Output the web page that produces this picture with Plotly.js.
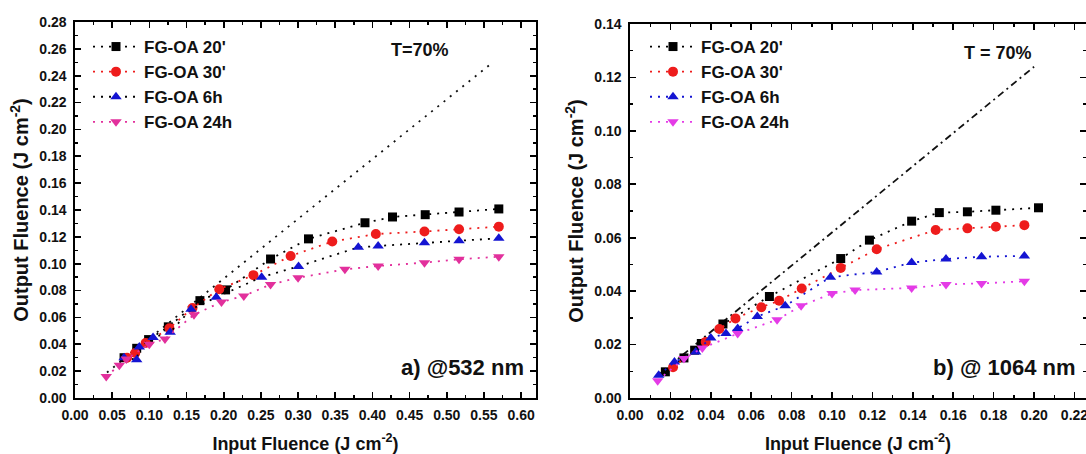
<!DOCTYPE html>
<html><head><meta charset="utf-8">
<script src="https://cdn.plot.ly/plotly-3.0.1.min.js"></script>
<style>html,body{margin:0;padding:0;background:#fff}#chart{width:1086px;height:454px}</style>
</head><body><div id="chart"></div>
<script>
// ---- Panel a) @532 nm ----
const a20x = [0.066, 0.083, 0.099, 0.1255, 0.168, 0.2025, 0.263, 0.314, 0.390, 0.427, 0.471, 0.5165, 0.570];
const a20y = [0.030, 0.037, 0.0435, 0.053, 0.0725, 0.0805, 0.1035, 0.1185, 0.1305, 0.1348, 0.1365, 0.1385, 0.1408];
const a30x = [0.070, 0.081, 0.095, 0.127, 0.158, 0.194, 0.240, 0.290, 0.346, 0.4046, 0.470, 0.5165, 0.570];
const a30y = [0.030, 0.0335, 0.041, 0.052, 0.067, 0.081, 0.0915, 0.1058, 0.1165, 0.1221, 0.1240, 0.1257, 0.1276];
const a6x = [0.066, 0.083, 0.0865, 0.105, 0.128, 0.156, 0.190, 0.251, 0.3006, 0.381, 0.4077, 0.470, 0.5165, 0.570];
const a6y = [0.030, 0.0285, 0.038, 0.045, 0.049, 0.066, 0.075, 0.090, 0.098, 0.1122, 0.1132, 0.1157, 0.1171, 0.1189];
const a24x = [0.042, 0.0596, 0.069, 0.0999, 0.121, 0.160, 0.197, 0.227, 0.263, 0.300, 0.363, 0.4077, 0.470, 0.5165, 0.570];
const a24y = [0.016, 0.0243, 0.029, 0.040, 0.044, 0.062, 0.0715, 0.076, 0.0845, 0.0895, 0.0958, 0.0983, 0.1008, 0.1033, 0.1052];
const aLinX = [0.043, 0.562];
const aLinY = [0.019, 0.250];

// ---- Panel b) @1064 nm ----
const b20x = [0.0175, 0.0267, 0.032, 0.0353, 0.046, 0.069, 0.1043, 0.1185, 0.1394, 0.1531, 0.167, 0.1811, 0.2022];
const b20y = [0.0098, 0.015, 0.0179, 0.0204, 0.0277, 0.038, 0.0522, 0.0591, 0.0662, 0.0694, 0.0697, 0.0703, 0.0712];
const b30x = [0.0213, 0.0375, 0.0442, 0.0522, 0.065, 0.0738, 0.085, 0.1043, 0.1221, 0.1513, 0.167, 0.1811, 0.1952];
const b30y = [0.0115, 0.021, 0.0258, 0.0298, 0.034, 0.0364, 0.041, 0.0487, 0.0557, 0.0629, 0.0635, 0.0641, 0.0647];
const b6x = [0.0142, 0.022, 0.0325, 0.040, 0.0475, 0.0533, 0.063, 0.0768, 0.0992, 0.1221, 0.1394, 0.1564, 0.174, 0.1952];
const b6y = [0.0085, 0.0135, 0.0172, 0.0225, 0.0241, 0.026, 0.0305, 0.0345, 0.0452, 0.0472, 0.0507, 0.052, 0.0529, 0.0532];
const b24x = [0.0137, 0.0267, 0.0358, 0.0533, 0.0728, 0.0847, 0.1, 0.1114, 0.1394, 0.1564, 0.174, 0.1952];
const b24y = [0.0065, 0.0148, 0.0187, 0.0241, 0.0293, 0.0345, 0.0391, 0.0404, 0.0412, 0.0425, 0.0429, 0.0437];
const bLinX = [0.013, 0.200];
const bLinY = [0.008, 0.124];

const names = ["FG-OA 20'", "FG-OA 30'", "FG-OA 6h", "FG-OA 24h"];

const FONT = 'Liberation Sans, Arial, sans-serif';
const DOT = '2px,6px';

function series(x, y, name, sym, mcol, lcol, xa, ya, leg, size) {
  return {x: x, y: y, name: name, type: 'scatter', mode: 'lines+markers',
    xaxis: xa, yaxis: ya, legend: leg,
    line: {color: lcol, width: 1.8, dash: DOT},
    marker: {symbol: sym, color: mcol, size: size || 10}};
}
const RED = '#ee1c1c', BLUE = '#1414d2', PINKA = '#e2309c', PINKB = '#e43be6';
const traces = [
  {x: aLinX, y: aLinY, type: 'scatter', mode: 'lines', xaxis: 'x', yaxis: 'y', showlegend: false,
   line: {color: '#111', width: 1.8, dash: DOT}},
  series(a20x, a20y, names[0], 'square', '#000', '#000', 'x', 'y', 'legend', 9),
  series(a30x, a30y, names[1], 'circle', RED, RED, 'x', 'y', 'legend'),
  series(a6x, a6y, names[2], 'triangle-up', BLUE, '#000', 'x', 'y', 'legend'),
  series(a24x, a24y, names[3], 'triangle-down', PINKA, PINKA, 'x', 'y', 'legend'),
  {x: bLinX, y: bLinY, type: 'scatter', mode: 'lines', xaxis: 'x2', yaxis: 'y2', showlegend: false,
   line: {color: '#111', width: 1.8, dash: '7px,4px,2px,4px'}},
  series(b20x, b20y, names[0], 'square', '#000', '#000', 'x2', 'y2', 'legend2', 9),
  series(b30x, b30y, names[1], 'circle', RED, RED, 'x2', 'y2', 'legend2'),
  series(b6x, b6y, names[2], 'triangle-up', BLUE, BLUE, 'x2', 'y2', 'legend2'),
  series(b24x, b24y, names[3], 'triangle-down', PINKB, PINKB, 'x2', 'y2', 'legend2')
];

const tickFont = {family: FONT, size: 14, color: '#111', weight: 'bold'};
function ax(domain, range, dtick, minorD, title, tsize, standoff, anchor) {
  return {domain: domain, range: range, dtick: dtick, tick0: 0, anchor: anchor,
    showline: true, linecolor: '#000', linewidth: 1.6, mirror: 'allticks',
    ticks: 'inside', ticklen: 6, tickwidth: 1.6, tickcolor: '#000',
    minor: {ticks: 'inside', ticklen: 3, tickwidth: 1.4, dtick: minorD, tickcolor: '#000', showgrid: false},
    showgrid: false, zeroline: false, tickformat: '.2f', tickfont: tickFont,
    ticklabelstandoff: 4, ticklabeloverflow: 'allow',
    title: {text: title, font: {family: FONT, size: tsize, color: '#111', weight: 'bold'}, standoff: standoff}};
}
const xt = 'Input Fluence (J cm<sup>-2</sup>)';
const yt = 'Output Fluence (J cm<sup>-2</sup>)';
const legFont = {family: FONT, size: 17, color: '#111', weight: 'bold'};
const layout = {
  width: 1086, height: 454, margin: {l: 0, r: 0, t: 0, b: 0},
  paper_bgcolor: '#fff', plot_bgcolor: '#fff',
  xaxis: ax([75/1086, 536/1086], [0, 0.62], 0.05, 0.025, xt, 18, 16, 'y'),
  yaxis: ax([(454-398)/454, (454-22)/454], [0, 0.28], 0.02, 0.01, yt, 20, 5, 'x'),
  xaxis2: ax([630/1086, 1], [0, 0.2257], 0.02, 0.01, xt, 18, 16, 'y2'),
  yaxis2: ax([(454-398)/454, (454-24)/454], [0, 0.14], 0.02, 0.01, yt, 20, 5, 'x2'),
  legend: {x: 88/1086, y: (454-29)/454, xanchor: 'left', yanchor: 'top', bgcolor: 'rgba(0,0,0,0)',
    font: legFont, itemwidth: 46, tracegroupgap: 0},
  legend2: {x: 645/1086, y: (454-29)/454, xanchor: 'left', yanchor: 'top', bgcolor: 'rgba(0,0,0,0)',
    font: legFont, itemwidth: 46, tracegroupgap: 0},
  annotations: [
    {text: 'T=70%', x: 0.464, y: 0.2594, xref: 'x', yref: 'y', showarrow: false,
     font: {family: FONT, size: 18, color: '#111', weight: 'bold'}},
    {text: 'a) @532 nm', x: 0.606, y: 0.0225, xref: 'x', yref: 'y', xanchor: 'right', showarrow: false,
     font: {family: FONT, size: 22, color: '#111', weight: 'bold'}},
    {text: 'T = 70%', x: 0.1822, y: 0.129, xref: 'x2', yref: 'y2', showarrow: false,
     font: {family: FONT, size: 18, color: '#111', weight: 'bold'}},
    {text: 'b) @ 1064 nm', x: 0.2215, y: 0.0115, xref: 'x2', yref: 'y2', xanchor: 'right', showarrow: false,
     font: {family: FONT, size: 22, color: '#111', weight: 'bold'}}
  ]
};
Plotly.newPlot('chart', traces, layout, {displayModeBar: false, staticPlot: true});
</script></body></html>
